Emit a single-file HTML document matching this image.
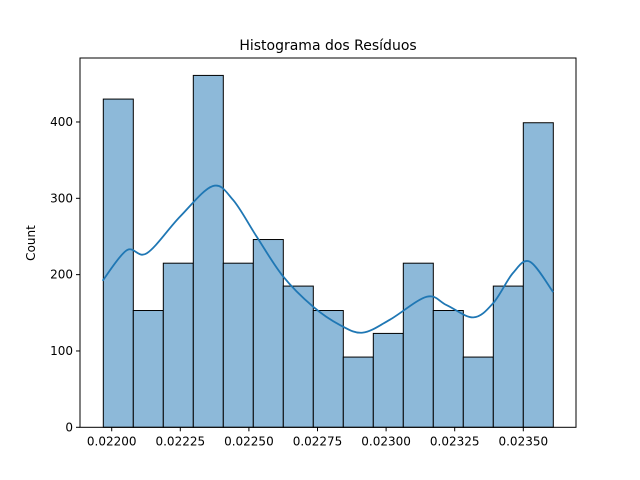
<!DOCTYPE html>
<html><head><meta charset="utf-8"><style>
body{margin:0;background:#fff;}
svg{display:block;font-family:"DejaVu Sans","Liberation Sans",sans-serif;}
</style></head><body>
<svg id="chart" width="640" height="480">
<rect width="640" height="480" fill="#fff"/>
<text x="328" y="50" text-anchor="middle" font-size="14">Histograma dos Resíduos</text>
<text transform="translate(35,243) rotate(-90)" text-anchor="middle" font-size="12">Count</text>
<g id="bars"></g><g id="kde"></g><g id="axes"></g>
</svg>
<script>
const binStart = 0.0219694;
const binWidth = 0.00010933;
const counts = [430,153,215,461,215,246,185,153,92,123,215,153,92,185,399];
const kdeX = [0.021967,0.022055,0.022128,0.022249,0.022368,0.022442,0.022528,0.022624,0.022734,0.022832,0.022915,0.023014,0.023148,0.023221,0.023318,0.023391,0.023462,0.023524,0.023609];
const kdeY = [192,232,228,276,316,298,250,198,158,134,124,141,171,160,144,163,202,217,177];
const xTicks = [0.022,0.02225,0.0225,0.02275,0.023,0.02325,0.0235];
const xTickLabels = ["0.02200","0.02225","0.02250","0.02275","0.02300","0.02325","0.02350"];
const yTicks = [0,100,200,300,400];
const L=80,R=576,T=58,B=427.3;
function sx(v){return 111.7+(v-0.022)/0.00025*68.6;}
function sy(c){return B-c*0.7633;}
const NS="http://www.w3.org/2000/svg";
function mk(t,a,p){const e=document.createElementNS(NS,t);for(const k in a)e.setAttribute(k,a[k]);p.appendChild(e);return e;}
const bars=document.getElementById('bars');
counts.forEach((c,i)=>{
  const x0=sx(binStart+i*binWidth),x1=sx(binStart+(i+1)*binWidth);
  const r=mk('rect',{x:x0,y:sy(c),width:x1-x0,height:B-sy(c),fill:'#8db9d9',stroke:'#000','stroke-width':1},bars);
  
  
});
const pts=kdeX.map((x,i)=>[sx(x),sy(kdeY[i])]);
let d='M'+pts[0][0]+','+pts[0][1];
for(let i=0;i<pts.length-1;i++){
  const p0=pts[Math.max(i-1,0)],p1=pts[i],p2=pts[i+1],p3=pts[Math.min(i+2,pts.length-1)];
  d+=' C'+(p1[0]+(p2[0]-p0[0])/6)+','+(p1[1]+(p2[1]-p0[1])/6)+' '+(p2[0]-(p3[0]-p1[0])/6)+','+(p2[1]-(p3[1]-p1[1])/6)+' '+p2[0]+','+p2[1];
}
const kp=mk('path',{d:d,fill:'none',stroke:'#1f77b4','stroke-width':1.8},document.getElementById('kde'));


const ax=document.getElementById('axes');
const frame=mk('rect',{x:L,y:T,width:R-L,height:B-T,fill:'none',stroke:'#000','stroke-width':1},ax);


xTicks.forEach((v,i)=>{
  const x=sx(v);
  mk('line',{x1:x,x2:x,y1:B,y2:B+4,stroke:'#000'},ax);
  const t=mk('text',{x:x,y:B+18,'text-anchor':'middle','font-size':12},ax);
  t.textContent=xTickLabels[i];
  
  
});
yTicks.forEach(v=>{
  const y=sy(v);
  mk('line',{x1:L,x2:L-4,y1:y,y2:y,stroke:'#000'},ax);
  const t=mk('text',{x:L-7,y:y+4,'text-anchor':'end','font-size':12},ax);
  t.textContent=String(v);
  
  
});
</script>
</body></html>
